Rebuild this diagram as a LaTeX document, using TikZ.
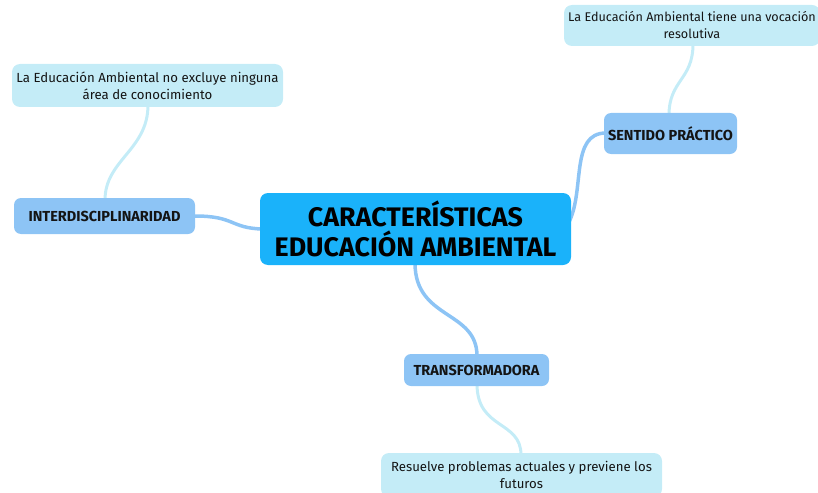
\documentclass[tikz,border=0pt]{standalone}
\usepackage{fontspec}
\setmainfont{Fira Sans}
\definecolor{rootblue}{RGB}{26,178,250}
\definecolor{midblue}{RGB}{141,196,245}
\definecolor{leafblue}{RGB}{196,236,247}
\definecolor{inktext}{RGB}{20,20,20}
\tikzset{
  rootbox/.style={fill=rootblue,rounded corners=8pt,minimum width=311pt,minimum height=72pt,
    align=center,font=\fontsize{26.8}{30}\selectfont\bfseries,text=black},
  midbox/.style={fill=midblue,rounded corners=7pt,minimum height=36pt,
    font=\fontsize{14.5}{16}\selectfont\bfseries,text=inktext},
  leafbox/.style={fill=leafblue,rounded corners=8pt,minimum height=42pt,
    align=center,font=\fontsize{13.2}{17}\selectfont,text=inktext},
  midlink/.style={draw=midblue,line width=3.5pt,line cap=round},
  leaflink/.style={draw=leafblue,line width=3pt,line cap=round}
}
\begin{document}
\begin{tikzpicture}[x=1pt,y=-1pt]
\useasboundingbox (0,0) rectangle (818,492);
% links first
\coordinate (rL) at (262,229); \coordinate (rR) at (569,222);
\coordinate (rB) at (415,263);
\draw[midlink] (195,216) .. controls (235,216) and (230,228) .. (rL);
\draw[midlink] (rR) .. controls (585,190) and (570,133) .. (606,133);
\draw[midlink] (rB) .. controls (415,320) and (477,310) .. (477,356);
\draw[leaflink] (148,105) .. controls (148,150) and (105,160) .. (105,200);
\draw[leaflink] (693,44) .. controls (693,80) and (669,80) .. (669,115);
\draw[leaflink] (477,384) .. controls (477,430) and (521,420) .. (521,455);
% nodes
\node[rootbox] (root) at (415.5,229) {CARACTERÍSTICAS\\EDUCACIÓN AMBIENTAL};
\node[midbox,minimum width=181pt] (interd) at (104.5,216) {INTERDISCIPLINARIDAD};
\node[midbox,minimum width=133pt,minimum height=41pt] (practico) at (670.5,133.5) {SENTIDO PRÁCTICO};
\node[midbox,minimum width=145pt,minimum height=32pt] (transf) at (476.5,370) {TRANSFORMADORA};
\node[leafbox,minimum width=271pt,minimum height=43pt] (leafA) at (147.5,85.5) {La Educación Ambiental no excluye ninguna\\área de conocimiento};
\node[leafbox,minimum width=256pt,minimum height=41pt,inner xsep=2pt,
  font=\fontsize{12.6}{17}\selectfont] (leafB) at (692,25.5) {La Educación Ambiental tiene una vocación\\resolutiva};
\node[leafbox,minimum width=281pt,minimum height=44pt] (leafC) at (521.5,475) {Resuelve problemas actuales y previene los\\futuros};
\end{tikzpicture}
\end{document}
